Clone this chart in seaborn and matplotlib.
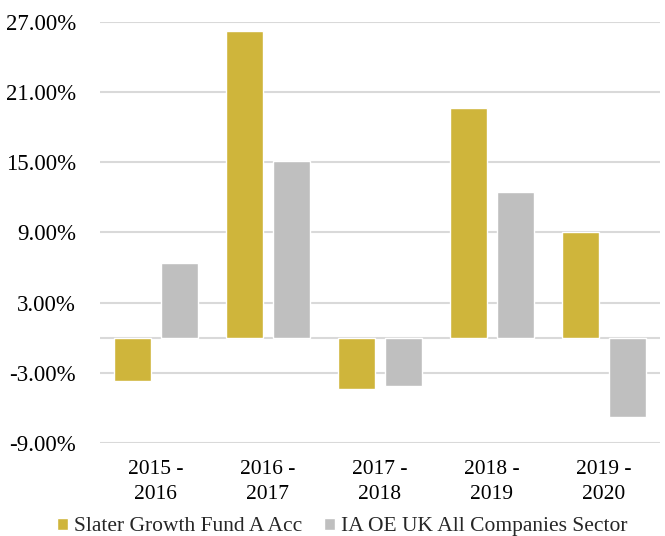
import matplotlib
matplotlib.use("Agg")
import matplotlib.pyplot as plt
from matplotlib.ticker import FuncFormatter, FixedLocator
import pandas as pd
import seaborn as sns

periods = ["2015 -\n2016", "2016 -\n2017", "2017 -\n2018", "2018 -\n2019", "2019 -\n2020"]
fund_name = "Slater Growth Fund A Acc"
sector_name = "IA OE UK All Companies Sector"
fund_returns = [-3.71, 26.2, -4.42, 19.68, 9.06]
sector_returns = [6.43, 15.14, -4.14, 12.43, -6.77]
y_ticks = [-9, -3, 3, 9, 15, 21, 27]

df = pd.DataFrame({
    "period": periods * 2,
    "series": [fund_name] * len(periods) + [sector_name] * len(periods),
    "value": fund_returns + sector_returns,
})

sns.set_theme(style="white")
plt.rcParams["font.family"] = ["Liberation Serif", "DejaVu Serif"]

fig = plt.figure(figsize=(6.65, 5.36), dpi=100)
ax = fig.add_axes([0.150, 0.1735, 0.842, 0.7855])

sns.barplot(data=df, x="period", y="value", hue="series",
            palette={fund_name: "#CFB53B", sector_name: "#BFBFBF"},
            width=0.84, gap=0.21, saturation=1, ax=ax, legend=True)

ax.set_ylim(-9, 27)
ax.set_xlim(-0.5, 4.5)
ax.yaxis.set_major_locator(FixedLocator(y_ticks))
ax.yaxis.set_major_formatter(FuncFormatter(lambda v, _: f"{v:.2f}%"))
ax.grid(axis="y", color="#D9D9D9", linewidth=1.5)
ax.set_axisbelow(True)
ax.axhline(0, color="#D9D9D9", linewidth=1.5, zorder=0.5)
for s in ax.spines.values():
    s.set_visible(False)
ax.tick_params(axis="x", length=0, labelsize=15.5, colors="black", pad=12)
ax.tick_params(axis="y", length=0, labelsize=16.5, colors="black", pad=17)
for lbl in ax.get_xticklabels():
    lbl.set_linespacing(1.45)
ax.set_xlabel("")
ax.set_ylabel("")

handles, labels = ax.get_legend_handles_labels()
ax.get_legend().remove()
fig.legend(handles, labels, loc="lower center", bbox_to_anchor=(0.515, -0.037),
           ncol=2, frameon=False, fontsize=15.5, handlelength=0.5,
           handleheight=0.5, handletextpad=0.3, columnspacing=1.0)

fig.savefig("out.png", dpi=100)
